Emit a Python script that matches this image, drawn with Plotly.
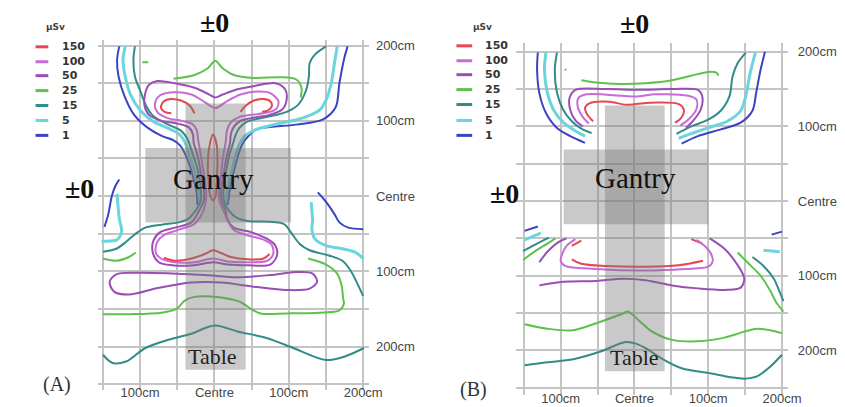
import plotly.graph_objects as go

# ---------------- legend / levels ----------------
LEVELS = ["150", "100", "50", "25", "15", "5", "1"]
LEVEL_COLORS = ["#e5484f", "#c86ad8", "#9a4db6", "#5dc24c", "#2e8d88", "#6ad5dc", "#3b43c4"]
COLOR = dict(zip(LEVELS, LEVEL_COLORS))

# ---------------- axes ----------------
GRID_X = [-150, -100, -50, 0, 50, 100, 150, 200]
GRID_X_TEXT = ["", "100cm", "", "Centre", "", "100cm", "", "200cm"]
GRID_Y = [-250, -200, -150, -100, -50, 0, 50, 100, 150, 200]
GRID_Y_TEXT = ["", "200cm", "", "100cm", "", "Centre", "", "100cm", "", "200cm"]

# gantry / table outlines (cm): x0, x1, y0, y1
GANTRY_A = (-93, 103, -35, 64)
TABLE_A = (-39, 42, -231, 123)
GANTRY_B = (-96, 100, -31, 69)
TABLE_B = (-40, 41, -228, 128)

# ---------------- Panel A isodose lines (cm) ----------------
A_BLUE_UL = [(-128,199),(-131,181),(-129,159),(-121,133),(-108,108),(-90,91),(-71,80),(-55,74),(-46,67),(-39,55),(-33,40),(-28,22),(-24,5),(-23,-12)]
A_BLUE_UR = [(179,199),(174,181),(168,150),(163,118),(146,102),(110,95),(57,89),(45,79),(38,70),(32,55),(28,40),(23,22),(20,5),(18,-12)]
A_CYAN_UL = [(-120,199),(-123,181),(-120,159),(-113,135),(-99,113),(-82,99),(-62,90),(-48,83),(-40,72),(-34,55),(-29,40),(-24,22),(-21,5),(-20,-12)]
A_CYAN_UR = [(165,199),(162,181),(157,150),(151,130),(142,115),(119,104),(80,95),(55,88),(40,79),(34,70),(29,55),(25,40),(20,22),(17,5),(15,-12)]
A_TEAL_L = [(-107,199),(-109,181),(-107,159),(-99,138),(-92,120),(-82,106),(-60,94),(-45,87),(-36,75),(-30,58),(-24,40),(-20,22),(-18,5),(-19,-8),(-26,-20),(-35,-30),(-48,-35),(-71,-38),(-93,-42),(-106,-50),(-119,-61),(-132,-70),(-150,-74)]
A_TEAL_R = [(150,199),(135,188),(128,177),(127,159),(123,140),(113,122),(97,112),(70,105),(44,99),(33,90),(28,80),(25,70),(20,55),(17,40),(14,22),(12,5),(13,-8),(20,-20),(30,-29),(44,-33),(93,-37),(104,-50),(115,-64),(128,-72),(154,-79),(172,-86),(183,-99),(192,-116),(200,-133)]
A_GREEN_TOP = [(-55,156),(-27,161),(-9,170),(1,180),(11,170),(26,161),(53,157),(88,158),(110,155),(117,144),(116,131)]
A_GREEN_DASH = [(-97,178),(-89,178)]
A_PURPLE = [(-15,-8),(-14,5),(-17,22),(-20,40),(-23,55),(-28,71),(-29,82),(-34,91),(-48,96),(-71,100),(-88,108),(-94,120),(-93,137),(-88,148),(-77,153),(-53,150),(-27,144),(-7,135),(1,131),(11,135),(31,142),(57,147),(82,150),(95,142),(97,128),(91,115),(74,108),(52,104),(35,100),(26,92),(22,82),(21,71),(17,55),(14,40),(11,22),(9,5),(10,-8),(15,-19),(17,-30),(26,-42),(49,-48),(71,-57),(82,-66),(84,-79),(75,-91),(44,-92),(18,-91),(-2,-88),(-27,-92),(-57,-92),(-75,-88),(-83,-75),(-82,-59),(-73,-48),(-53,-42),(-31,-35),(-21,-20),(-15,-8)]
A_MAGENTA = [(-12,-8),(-11,5),(-13,22),(-16,40),(-19,58),(-22,75),(-24,88),(-30,96),(-44,100),(-64,104),(-77,112),(-80,123),(-73,134),(-53,138),(-31,135),(-13,125),(1,117),(15,125),(35,135),(57,139),(75,137),(86,126),(83,116),(71,111),(50,108),(33,105),(22,98),(17,88),(15,71),(12,55),(10,40),(8,22),(6,5),(7,-8),(12,-19),(18,-33),(26,-45),(44,-52),(66,-58),(77,-65),(79,-77),(71,-86),(44,-88),(18,-87),(-2,-83),(-27,-88),(-53,-88),(-72,-83),(-79,-75),(-77,-61),(-68,-52),(-49,-45),(-27,-37),(-16,-22),(-12,-8)]
A_RED_UL = [(-27,110),(-33,120),(-45,127),(-58,129),(-68,126),(-72,118),(-67,112),(-58,110)]
A_RED_UR = [(35,112),(42,120),(53,127),(66,129),(75,126),(77,119),(72,114),(64,112)]
A_RED_NECK = [(-2,-6),(-6,2),(-8,20),(-9,40),(-7,65),(-2,82),(3,68),(4,40),(3,20),(2,2),(-2,-6)]
A_RED_LOW = [(-68,-82),(-53,-86),(-31,-83),(-13,-77),(-2,-72),(7,-75),(22,-81),(44,-84),(66,-83),(74,-77)]
A_PURPLE_BIG = [(-141,-114),(-132,-104),(-101,-102),(-57,-103),(-13,-105),(31,-108),(75,-105),(110,-101),(132,-103),(138,-114),(128,-123),(101,-125),(57,-121),(9,-115),(-31,-115),(-75,-122),(-115,-131),(-135,-127),(-141,-114)]
A_GREEN_LL = [(-150,-83),(-132,-86),(-115,-81),(-106,-75)]
A_GREEN_LOW = [(-150,-157),(-115,-157),(-71,-155),(-51,-150),(-40,-139),(-27,-134),(9,-135),(35,-141),(49,-150),(62,-156),(97,-156),(141,-155),(168,-152),(174,-143),(173,-136),(171,-119),(165,-103),(150,-91),(126,-83)]
A_TEAL_LOW = [(-150,-211),(-137,-222),(-119,-220),(-93,-202),(-62,-191),(-31,-183),(0,-172),(31,-180),(71,-189),(106,-202),(150,-218),(176,-213),(201,-202)]
A_BLUE_LL = [(-128,22),(-133,14),(-138,0),(-143,-25),(-148,-41)]
A_CYAN_LL = [(-131,3),(-130,-10),(-128,-30),(-125,-47),(-131,-58),(-146,-60),(-152,-60)]
A_BLUE_LR = [(139,5),(147,-4),(154,-13),(162,-25),(168,-35),(180,-42),(200,-44)]
A_CYAN_LR = [(130,-8),(131,-20),(132,-32),(131,-44),(135,-57),(150,-66),(172,-70),(190,-75),(200,-83)]

# ---------------- Panel B isodose lines (cm) ----------------
B_BLUE_UL = [(-131,199),(-132,176),(-129,145),(-120,118),(-105,98),(-87,87),(-67,78)]
B_CYAN_UL = [(-120,199),(-122,176),(-118,145),(-109,121),(-96,105),(-80,94),(-67,87)]
B_TEAL_UL = [(-105,199),(-108,176),(-105,145),(-97,123),(-85,107),(-72,97),(-58,91)]
B_BLUE_UR = [(177,200),(171,176),(165,145),(160,121),(144,105),(117,96),(86,87),(64,77)]
B_CYAN_UR = [(164,199),(157,172),(151,141),(144,121),(126,107),(100,98),(73,89),(60,84)]
B_TEAL_UR = [(151,199),(140,185),(133,167),(129,141),(117,121),(100,109),(77,100),(57,90)]
B_GREEN_U = [(-72,162),(-52,159),(-20,157),(15,158),(51,162),(77,168),(100,173),(111,172),(114,168)]
B_GREEN_DOT = [(-94,177),(-93,175)]
B_PURPLE_U = [(-70,100),(-80,108),(-87,122),(-88,138),(-80,149),(-38,150),(6,149),(51,150),(86,149),(92,140),(90,123),(80,108),(70,98)]
B_MAGENTA_U = [(-62,104),(-71,114),(-77,127),(-76,138),(-65,143),(-16,141),(2,140),(29,143),(73,141),(84,136),(84,123),(74,110),(62,101)]
B_RED_U = [(-56,107),(-64,116),(-67,125),(-61,131),(-34,133),(-12,129),(2,130),(30,132),(60,130),(67,122),(63,111),(55,105)]
B_BLUE_LL = [(-149,-40),(-131,-34)]
B_CYAN_LL = [(-149,-52),(-127,-43)]
B_TEAL_LL = [(-151,-67),(-136,-59),(-116,-49)]
B_GREEN_LL = [(-151,-79),(-136,-68),(-118,-57),(-107,-50)]
B_PURPLE_LL = [(-129,-82),(-118,-68),(-103,-55),(-92,-50)]
B_RED_L1 = [(-85,-60),(-72,-53)]
B_RED_L2 = [(92,-57),(77,-51)]
B_RED_MAIN = [(-85,-78),(-72,-84),(-38,-87),(15,-88),(60,-86),(93,-80)]
B_MAGENTA_L = [(-80,-51),(-92,-60),(-98,-71),(-100,-80),(-94,-87),(-52,-91),(15,-93),(68,-91),(100,-88),(106,-81),(104,-71),(95,-60),(84,-52)]
B_PURPLE_L = [(-129,-113),(-96,-108),(-52,-107),(-16,-104),(15,-106),(51,-113),(86,-117),(126,-119),(144,-116),(149,-104),(140,-86),(122,-64),(102,-50)]
B_GREEN_L = [(-149,-165),(-118,-171),(-83,-173),(-47,-162),(-16,-151),(-9,-148),(6,-160),(24,-175),(51,-186),(86,-188),(122,-183),(149,-175),(166,-171),(184,-173),(200,-177)]
B_TEAL_L = [(-149,-220),(-118,-216),(-83,-212),(-47,-202),(-12,-189),(2,-191),(15,-197),(37,-211),(64,-224),(104,-231),(131,-236),(149,-238),(166,-235),(184,-222),(200,-206)]
B_GREEN_R = [(140,-69),(153,-82),(171,-100),(184,-120),(193,-137),(202,-148)]
B_TEAL_R = [(160,-75),(175,-87),(189,-104),(197,-122),(202,-134)]
B_BLUE_R = [(186,-45),(200,-41)]
B_CYAN_R = [(175,-66),(197,-68)]

PANEL_A = [
    ("1", A_BLUE_UL), ("1", A_BLUE_UR), ("5", A_CYAN_UL), ("5", A_CYAN_UR),
    ("15", A_TEAL_L), ("15", A_TEAL_R), ("25", A_GREEN_TOP), ("25", A_GREEN_DASH),
    ("50", A_PURPLE), ("100", A_MAGENTA), ("150", A_RED_UL), ("150", A_RED_UR),
    ("150", A_RED_NECK), ("150", A_RED_LOW), ("50", A_PURPLE_BIG), ("25", A_GREEN_LL),
    ("25", A_GREEN_LOW), ("15", A_TEAL_LOW), ("1", A_BLUE_LL), ("5", A_CYAN_LL),
    ("1", A_BLUE_LR), ("5", A_CYAN_LR),
]
PANEL_B = [
    ("1", B_BLUE_UL), ("5", B_CYAN_UL), ("15", B_TEAL_UL), ("1", B_BLUE_UR),
    ("5", B_CYAN_UR), ("15", B_TEAL_UR), ("25", B_GREEN_U), ("25", B_GREEN_DOT),
    ("50", B_PURPLE_U), ("100", B_MAGENTA_U), ("150", B_RED_U),
    ("1", B_BLUE_LL), ("5", B_CYAN_LL), ("15", B_TEAL_LL), ("25", B_GREEN_LL),
    ("50", B_PURPLE_LL), ("150", B_RED_L1), ("150", B_RED_L2), ("150", B_RED_MAIN),
    ("100", B_MAGENTA_L), ("50", B_PURPLE_L), ("25", B_GREEN_L), ("15", B_TEAL_L),
    ("25", B_GREEN_R), ("15", B_TEAL_R), ("1", B_BLUE_R), ("5", B_CYAN_R),
]

W, H = 845, 407
fig = go.Figure()

for panel, (xa, ya) in ((PANEL_A, ("x", "y")), (PANEL_B, ("x2", "y2"))):
    for lvl, pts in panel:
        fig.add_trace(go.Scatter(
            x=[p[0] for p in pts], y=[p[1] for p in pts], mode="lines",
            line=dict(color=COLOR[lvl], width=3 if lvl == "5" else 2,
                      shape="spline", smoothing=0.9),
            xaxis=xa, yaxis=ya, showlegend=False, hoverinfo="skip"))

GRID = "#c4c4c4"
TICKFONT = dict(family="Liberation Sans, Arial, sans-serif", size=13, color="#454545")

def xax(domain, rng, anchor, standoff):
    return dict(domain=domain, range=rng, tickvals=GRID_X, ticktext=GRID_X_TEXT,
                showgrid=True, gridcolor=GRID, gridwidth=1.5, zeroline=False,
                showline=False, ticks="", ticklen=0, tickfont=TICKFONT, anchor=anchor,
                ticklabelstandoff=standoff, fixedrange=True)

def yax(domain, rng, anchor, standoff):
    return dict(domain=domain, range=rng, tickvals=GRID_Y, ticktext=GRID_Y_TEXT,
                showgrid=True, gridcolor=GRID, gridwidth=1.5, zeroline=False,
                showline=False, ticks="", tickfont=TICKFONT, anchor=anchor, side="right",
                ticklabelstandoff=standoff, fixedrange=True)

shapes = []
for (xr, yr), rects in ((("x", "y"), (GANTRY_A, TABLE_A)), (("x2", "y2"), (GANTRY_B, TABLE_B))):
    for x0, x1, y0, y1 in rects:
        shapes.append(dict(type="rect", xref=xr, yref=yr, x0=x0, x1=x1, y0=y0, y1=y1,
                           fillcolor="rgba(120,120,120,0.40)", line=dict(width=0),
                           layer="above"))

annotations = []
SERIF = "Liberation Serif, Times New Roman, serif"
for xr, yr, gy, ty, gx, tx in (("x", "y", 23, -213, -1, -3), ("x2", "y2", 31, -209, 2, 0)):
    annotations.append(dict(text="Gantry", x=gx, y=gy, xref=xr, yref=yr, showarrow=False,
                            xanchor="center", yanchor="middle",
                            font=dict(family=SERIF, size=29, color="#111")))
    annotations.append(dict(text="Table", x=tx, y=ty, xref=xr, yref=yr, showarrow=False,
                            xanchor="center", yanchor="middle",
                            font=dict(family=SERIF, size=22, color="#222")))
# ±0 markers and panel letters (paper coords from pixel positions)
for txt, px, py, size in (("±0", 210, 13, 28), ("±0", 73, 179, 28), ("±0", 637, 14, 28),
                          ("±0", 505, 184, 28), ("(A)", 50, 376, 20), ("(B)", 473, 381, 20)):
    annotations.append(dict(text=txt, x=px / W, y=1 - py / H, xref="paper", yref="paper",
                            xanchor="center", yanchor="middle", showarrow=False,
                            font=dict(family=SERIF, size=size,
                                      color="#111" if txt == "±0" else "#333",
                                      weight="bold" if txt == "±0" else "normal")))

# legends
LEG_ROWS_A = [37, 52, 66, 81, 96, 111, 126]
LEG_ROWS_B = [36, 51, 65, 80, 95, 111, 126]
for rows, lx0, lx1, tx, ux in ((LEG_ROWS_A, 28, 41, 53, 48), (LEG_ROWS_B, 456, 472, 483, 483)):
    annotations.append(dict(text="μSv", x=ux / W, y=1 - 17 / H, xref="paper", yref="paper",
                            xanchor="center", yanchor="middle", showarrow=False,
                            font=dict(family="DejaVu Sans", size=9, color="#444", weight="bold")))
    for lvl, py in zip(LEVELS, rows):
        shapes.append(dict(type="line", xref="paper", yref="paper", x0=lx0 / W, x1=lx1 / W,
                           y0=1 - py / H, y1=1 - py / H,
                           line=dict(color=COLOR[lvl], width=3)))
        annotations.append(dict(text=lvl, x=tx / W, y=1 - py / H, xref="paper", yref="paper",
                                xanchor="left", yanchor="middle", showarrow=False,
                                font=dict(family="DejaVu Sans", size=11, color="#333",
                                          weight="bold")))

fig.update_layout(
    width=W, height=H, autosize=False,
    margin=dict(l=0, r=0, t=0, b=0),
    paper_bgcolor="white", plot_bgcolor="white",
    xaxis=xax([92 / W, 367 / W], [-156, 207.7], "y", -7),
    yaxis=yax([1 - 382 / H, 1 - 30 / H], [-258, 207.7], "x", 6),
    xaxis2=xax([516.7 / W, 793 / W], [-160.4, 208], "y2", -6),
    yaxis2=yax([1 - 387 / H, 1 - 33 / H], [-260, 212], "x2", 9),
    shapes=shapes, annotations=annotations, showlegend=False,
)

fig.write_html("out.html")
